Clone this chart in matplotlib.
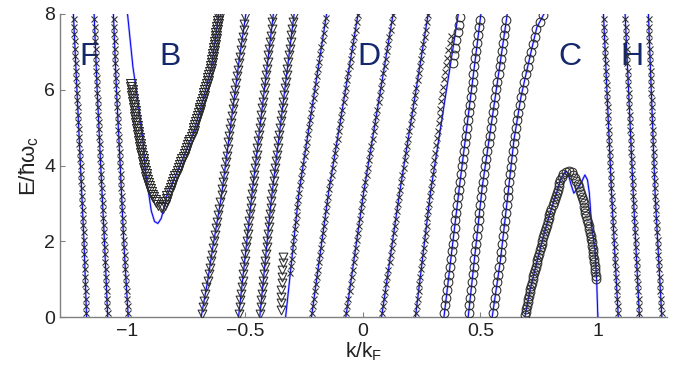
import numpy as np
import matplotlib
matplotlib.use("Agg")
import matplotlib.pyplot as plt
from matplotlib.patheffects import AbstractPathEffect
from matplotlib.markers import MarkerStyle
from matplotlib.path import Path
from matplotlib.transforms import Affine2D

plt.rcParams['font.family'] = ['Liberation Sans', 'DejaVu Sans']
plt.rcParams['mathtext.fontset'] = 'custom'
plt.rcParams['mathtext.rm'] = 'Liberation Sans'
plt.rcParams['mathtext.it'] = 'Liberation Sans:italic'

# ---- data (k/kF, E/hw_c) ----
f_E = [0, 2, 4, 6, 8]
f1_k = [-1.174, -1.185, -1.200, -1.215, -1.230]
f2_k = [-1.084, -1.098, -1.114, -1.129, -1.142]
f3_k = [-0.997, -1.016, -1.031, -1.047, -1.060]

b_line_E = [8.0, 6.6, 5.7, 4.7, 3.9, 2.8, 2.52, 2.47, 2.6, 2.85, 3.2, 4.0, 4.85, 5.75, 6.6, 8.0]
b_line_k = [-1.0, -0.977, -0.956, -0.935, -0.925, -0.899, -0.885, -0.871, -0.857, -0.846,
            -0.833, -0.777, -0.72, -0.678, -0.643, -0.612]
b_tri_E = [6.2, 5.7, 5.1, 4.4, 3.7, 3.2, 2.95, 2.88, 3.0, 3.2, 4.0, 4.85, 5.75, 6.6, 7.75, 8.2]
b_tri_k = [-0.987, -0.976, -0.962, -0.943, -0.921, -0.895, -0.87, -0.85, -0.838, -0.83,
           -0.777, -0.722, -0.68, -0.644, -0.616, -0.607]

ta_E = [0, 1.0, 1.86, 3.18, 6.8, 8.0]
ta_k = [-0.687, -0.658, -0.637, -0.601, -0.525, -0.497]
tb_E = [0, 3.3, 8.0]
tb_k = [-0.528, -0.47, -0.38]
tc_E = [0, 3.09, 8.0]
tc_k = [-0.438, -0.389, -0.292]

d_E = [0, 3.3, 8.0]
c_line_k = [-0.328, -0.271, -0.154]
d1_k = [-0.218, -0.145, -0.020]
d2_k = [-0.072, 0.004, 0.129]
d3_k = [0.080, 0.157, 0.278]
d4_k = [0.224, 0.288, 0.406]

c_x_E = [1.06, 3.3, 8.0]
c_x_k = [-0.31, -0.271, -0.154]
c_tri_E = [0.1, 1.6]
c_tri_k = [-0.35, -0.34]
d4_x_E = [0, 3.3, 6.5, 7.6]
d4_x_k = [0.224, 0.288, 0.349, 0.379]
d4_o_E = [6.6, 8.0]
d4_o_k = [0.383, 0.413]

o1_E = [0, 3.4, 8.0]
o1_k = [0.345, 0.41, 0.502]
o2_E = [0, 3.45, 8.0]
o2_k = [0.448, 0.508, 0.614]
o3_E = [0, 1.5, 3.3, 4.7, 5.8, 6.45, 7.05, 7.65, 8.0]
o3_k = [0.550, 0.585, 0.618, 0.643, 0.672, 0.695, 0.717, 0.74, 0.77]

dome_o_E = [0, 0.71, 1.43, 2.11, 2.75, 3.27, 3.62, 3.8, 3.86, 3.83, 3.62, 3.09, 2.65,
            2.25, 1.9, 1.59, 1.33, 0.98]
dome_o_k = [0.689, 0.711, 0.739, 0.767, 0.796, 0.824, 0.84, 0.855, 0.872, 0.888, 0.906,
            0.936, 0.949, 0.966, 0.976, 0.98, 0.987, 0.991]
dome_line_E = [0, 0.71, 1.43, 2.11, 2.75, 3.27, 3.62, 3.85, 3.8, 3.5, 3.27, 3.5, 3.75,
               3.62, 3.27, 2.38, 1.77, 0.98, 0]
dome_line_k = [0.689, 0.711, 0.739, 0.767, 0.796, 0.824, 0.84, 0.862, 0.872, 0.885, 0.897,
               0.925, 0.944, 0.955, 0.963, 0.973, 0.987, 0.994, 0.999]

h_E = [0, 3.2, 8.0]
h1_k = [1.086, 1.058, 1.023]
h2_k = [1.176, 1.150, 1.115]
h3_k = [1.271, 1.243, 1.214]

region_names = ['F', 'B', 'D', 'C', 'H']
region_k = [-1.162, -0.821, 0.027, 0.881, 1.146]
region_E = 6.87


class MarkersAlong(AbstractPathEffect):
    # stamp a marker every `step` points along the drawn path
    def __init__(self, marker, size, step, color='#2b2b2b', lw=0.75):
        super().__init__()
        self.marker = MarkerStyle(marker)
        self.size = size
        self.step = step
        self.color = color
        self.lw = lw

    def draw_path(self, renderer, gc, tpath, affine, rgbFace=None):
        xy = affine.transform(tpath.vertices)
        seg = np.hypot(*np.diff(xy, axis=0).T)
        s = np.concatenate([[0], np.cumsum(seg)])
        step = renderer.points_to_pixels(self.step)
        at = np.arange(step / 2, s[-1], step)
        pts = np.column_stack([np.interp(at, s, xy[:, 0]), np.interp(at, s, xy[:, 1])])
        gc0 = renderer.new_gc()
        gc0.copy_properties(gc)
        gc0.set_foreground(self.color)
        gc0.set_linewidth(self.lw)
        gc0.set_dashes(0, None)
        w = renderer.points_to_pixels(self.size)
        mtrans = self.marker.get_transform() + Affine2D().scale(w)
        renderer.draw_markers(gc0, self.marker.get_path(), mtrans, Path(pts), Affine2D(), None)
        gc0.restore()


fig = plt.figure(figsize=(6.83, 3.66), dpi=100)
ax = fig.add_axes([60 / 683, 49 / 366, 607 / 683, 303 / 366])


def blue(k, E):
    ax.plot(k, E, color='#b4b4ff', lw=1.6, zorder=2)
    ax.plot(k, E, color='#0000f0', lw=0.7, zorder=3)


def marks(k, E, marker, step, size=None):
    if size is None:
        size = 3.8 if marker == 'x' else 6.3
    ax.plot(k, E, color='k', lw=1, zorder=4,
            path_effects=[MarkersAlong(marker, size, step)])


for kk in [f1_k, f2_k, f3_k]:
    blue(kk, f_E)
    marks(kk, f_E, 'x', 5.3)

blue(b_line_k, b_line_E)
marks(b_tri_k, b_tri_E, 'v', 2.2, size=7.2)

for kk, ee in [(ta_k, ta_E), (tb_k, tb_E), (tc_k, tc_E)]:
    blue(kk, ee)
    marks(kk, ee, 'v', 4.8)

blue(c_line_k, d_E)
marks(c_x_k, c_x_E, 'x', 5.3)
marks(c_tri_k, c_tri_E, 'v', 4.8)

for kk in [d1_k, d2_k, d3_k]:
    blue(kk, d_E)
    marks(kk, d_E, 'x', 5.3)
blue(d4_k, d_E)
marks(d4_x_k, d4_x_E, 'x', 5.3)
marks(d4_o_k, d4_o_E, 'o', 5.6)

for kk, ee in [(o1_k, o1_E), (o2_k, o2_E), (o3_k, o3_E)]:
    blue(kk, ee)
    marks(kk, ee, 'o', 5.6)

blue(dome_line_k, dome_line_E)
marks(dome_o_k, dome_o_E, 'o', 2.4)

for kk in [h1_k, h2_k, h3_k]:
    blue(kk, h_E)
    marks(kk, h_E, 'x', 5.3)

for name, kx in zip(region_names, region_k):
    ax.text(kx, region_E, name, color='#14286b', fontsize=23, ha='center', va='center')

ax.set_xlim(-1.287, 1.293)
ax.set_ylim(0, 8)
ax.set_xticks([-1, -0.5, 0, 0.5, 1])
ax.set_xticklabels(['\u22121', '\u22120.5', '0', '0.5', '1'])
ax.set_yticks([0, 2, 4, 6, 8])
for side in ['top', 'right']:
    ax.spines[side].set_visible(False)
for side in ['left', 'bottom']:
    ax.spines[side].set_color('#808080')
    ax.spines[side].set_linewidth(1.0)
ax.tick_params(direction='in', length=3.5, width=0.8, color='#808080',
               labelsize=14, labelcolor='#222222')
ax.tick_params(axis='x', pad=4)
ax.set_xlabel('k/k$_\\mathrm{F}$', fontsize=15, color='#222222', labelpad=1)
ax.set_ylabel('E/ħω$_\\mathrm{c}$', fontsize=16, color='#222222', labelpad=2)

fig.savefig('out.png', dpi=100)
